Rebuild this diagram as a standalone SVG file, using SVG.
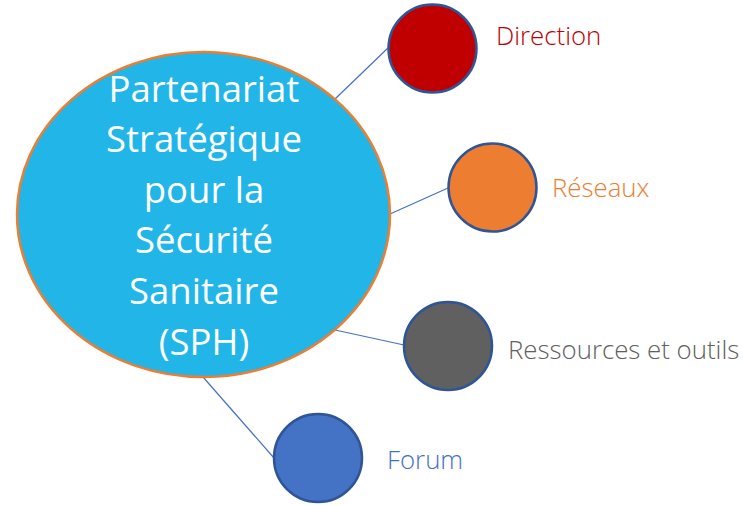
<svg xmlns="http://www.w3.org/2000/svg" width="743" height="505" viewBox="0 0 743 505">
<style>
.conn{stroke:#4472C4;stroke-width:1.2;fill:none}
.sat{stroke:#2F5597;stroke-width:2.5}
.lbl{font-family:"Open Sans","DejaVu Sans",sans-serif;font-size:25.8px;font-weight:300}
.main{font-family:"Open Sans","DejaVu Sans",sans-serif;font-size:36.5px;fill:#FFFFFF;text-anchor:middle}
</style>
<rect width="743" height="505" fill="#FFFFFF"/>
<g id="connectors">
<line class="conn" x1="335" y1="99" x2="389" y2="47"/>
<line class="conn" x1="390" y1="214" x2="448" y2="188"/>
<line class="conn" x1="335" y1="330" x2="404" y2="345"/>
<line class="conn" x1="203" y1="377" x2="274" y2="458"/>
</g>
<g id="sph">
<ellipse cx="203.5" cy="214.5" rx="186.5" ry="162.5" fill="#22B5E8" stroke="#ED7D31" stroke-width="2.5"/>
<text class="main" x="204" y="102">Partenariat</text>
<text class="main" x="204" y="152">Stratégique</text>
<text class="main" x="204" y="203">pour la</text>
<text class="main" x="204" y="253">Sécurité</text>
<text class="main" x="204" y="304">Sanitaire</text>
<text class="main" x="204" y="355">(SPH)</text>
</g>
<g id="direction">
<circle class="sat" cx="432.5" cy="48.5" r="44" fill="#C00000"/>
<text class="lbl" x="496" y="45" fill="#C00000">Direction</text>
</g>
<g id="reseaux">
<circle class="sat" cx="492.5" cy="187.5" r="44" fill="#ED7D31"/>
<text class="lbl" x="552" y="197" fill="#ED7D31">Réseaux</text>
</g>
<g id="ressources">
<circle class="sat" cx="448" cy="346" r="44" fill="#606060"/>
<text class="lbl" x="508" y="359" fill="#606060">Ressources et outils</text>
</g>
<g id="forum">
<circle class="sat" cx="318" cy="458" r="44" fill="#4472C4"/>
<text class="lbl" x="387" y="469" fill="#4472C4">Forum</text>
</g>
</svg>
